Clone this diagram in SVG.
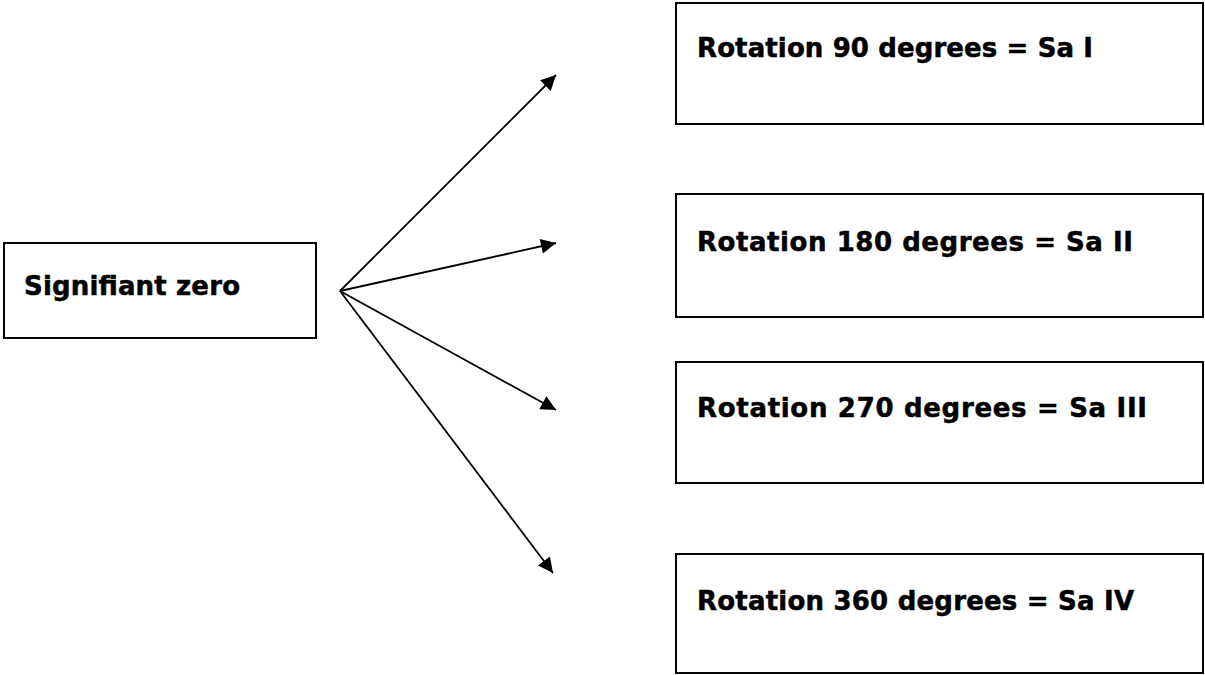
<svg xmlns="http://www.w3.org/2000/svg" width="1205" height="675" viewBox="0 0 1205 675">
<style>
.box{fill:#fff;stroke:#000;stroke-width:2}
.lbl{font-family:"DejaVu Sans",Verdana,sans-serif;font-weight:bold;font-size:26px;fill:#000;stroke:#000;stroke-width:0.5}
.conn{stroke:#000;stroke-width:1.8;fill:none;marker-end:url(#ah)}
</style>
<defs>
<marker id="ah" viewBox="0 0 10 10" refX="10" refY="5" markerWidth="18" markerHeight="15" markerUnits="userSpaceOnUse" orient="auto">
<path d="M0,0 L10,5 L0,10 z" fill="#000"/>
</marker>
</defs>
<rect width="1205" height="675" fill="#fff"/>
<g id="n0"><rect class="box" x="4" y="243" width="312" height="95"/><text class="lbl" x="24" y="295" textLength="216" lengthAdjust="spacing">Signifiant zero</text></g>
<g id="n1"><rect class="box" x="676" y="3" width="527" height="121"/><text class="lbl" x="697" y="57" textLength="396" lengthAdjust="spacing">Rotation 90 degrees = Sa I</text></g>
<g id="n2"><rect class="box" x="676" y="194" width="527" height="123"/><text class="lbl" x="697" y="251" textLength="436" lengthAdjust="spacing">Rotation 180 degrees = Sa II</text></g>
<g id="n3"><rect class="box" x="676" y="362" width="527" height="121"/><text class="lbl" x="697" y="417" textLength="450" lengthAdjust="spacing">Rotation 270 degrees = Sa III</text></g>
<g id="n4"><rect class="box" x="676" y="554" width="527" height="119"/><text class="lbl" x="697" y="610" textLength="437" lengthAdjust="spacing">Rotation 360 degrees = Sa IV</text></g>
<g id="connectors">
<line class="conn" x1="340" y1="291" x2="556" y2="75"/>
<line class="conn" x1="340" y1="291" x2="556" y2="243"/>
<line class="conn" x1="340" y1="291" x2="556" y2="410"/>
<line class="conn" x1="340" y1="291" x2="553" y2="573"/>
</g>
</svg>
